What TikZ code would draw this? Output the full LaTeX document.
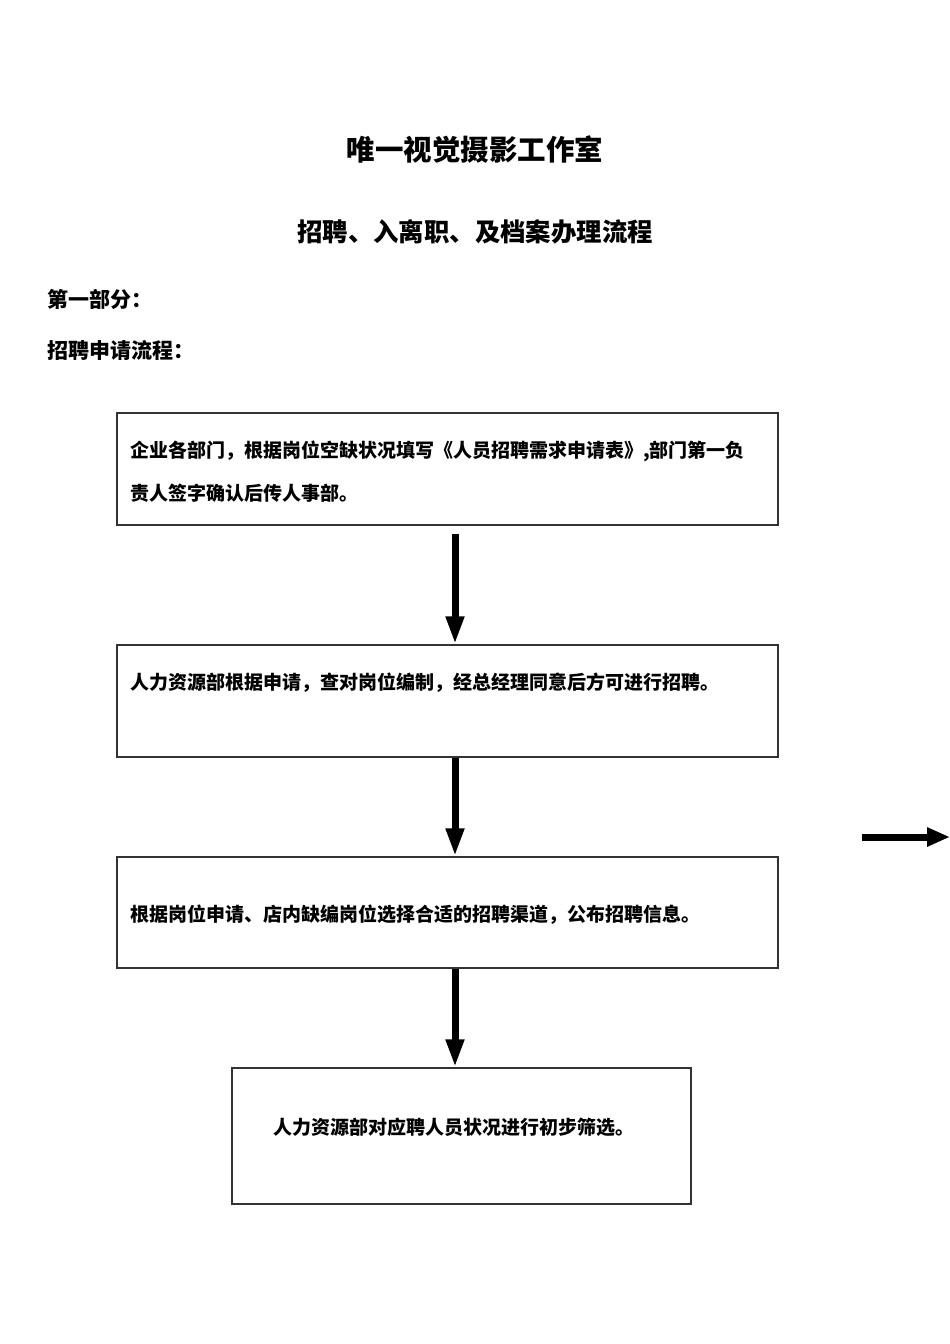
\documentclass[tikz,border=0pt]{standalone}
\usepackage{fontspec}
\setmainfont{Noto Sans CJK SC}
\usetikzlibrary{arrows.meta}
\begin{document}
\begin{tikzpicture}[x=1pt,y=-1pt,
  box/.style={draw=black!80,line width=1.2pt,inner sep=0pt,minimum width=661pt,minimum height=112pt},
  boxtext/.style={anchor=west,inner sep=0pt,align=left,font=\fontsize{19}{43}\selectfont\bfseries},
  headtext/.style={anchor=west,inner sep=0pt,font=\fontsize{21}{25}\selectfont\bfseries},
  bigarrow/.style={line width=7pt,-{Triangle[length=28pt,width=17pt]}}]
\useasboundingbox (0,0) rectangle (950,1344);
% titles
\node[font=\fontsize{28.5}{32}\selectfont\bfseries] (title) at (475,150) {唯一视觉摄影工作室};
\node[font=\fontsize{25.4}{30}\selectfont\bfseries] (subtitle) at (475,232) {招聘、入离职、及档案办理流程};
\node[headtext] (part) at (47,299) {第一部分：};
\node[headtext] (flow) at (47,351) {招聘申请流程：};
% boxes
\node[box] (b1) at (447.5,469) {};
\node[box] (b2) at (447.5,701) {};
\node[box,minimum height=111pt] (b3) at (447.5,912.5) {};
\node[box,minimum width=459pt,minimum height=136pt] (b4) at (461.5,1136) {};
\node[boxtext] (t1) at (130,472) {企业各部门，根据岗位空缺状况填写《人员招聘需求申请表》,部门第一负\\责人签字确认后传人事部。};
\node[boxtext] (t2) at (130,683) {人力资源部根据申请，查对岗位编制，经总经理同意后方可进行招聘。};
\node[boxtext] (t3) at (130,915) {根据岗位申请、店内缺编岗位选择合适的招聘渠道，公布招聘信息。};
\node[boxtext] (t4) at (273,1127) {人力资源部对应聘人员状况进行初步筛选。};
% arrows
\coordinate (ax) at (455,0);
\draw[bigarrow] ([yshift=-8pt]b1.south -| ax) -- (b2.north -| ax);
\draw[bigarrow] (b2.south -| ax) -- (b3.north -| ax);
\draw[bigarrow] (b3.south -| ax) -- (b4.north -| ax);
\coordinate (r0) at (862,837);
\coordinate (r1) at (950,837);
\draw[bigarrow,-{Triangle[length=23pt,width=18pt]}] (r0) -- (r1);
\end{tikzpicture}
\end{document}
